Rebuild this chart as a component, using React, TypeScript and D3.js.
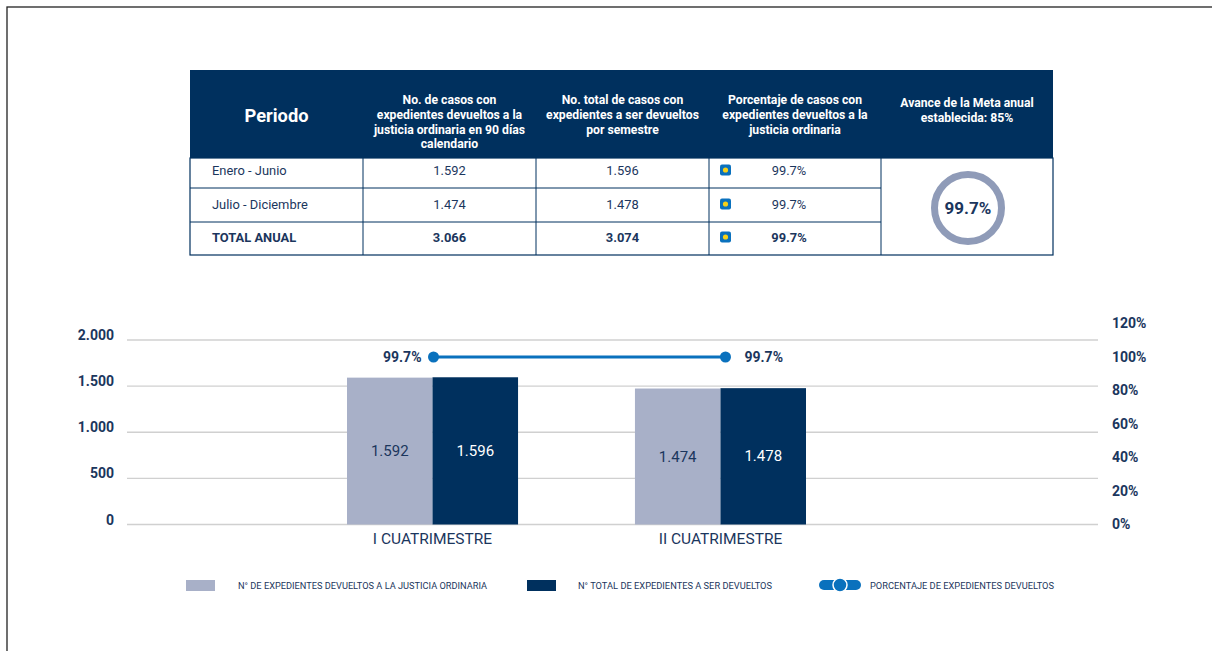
import React from "react";
import * as d3 from "d3";

const periods = ["Enero - Junio", "Julio - Diciembre", "TOTAL ANUAL"];
const devueltos = [1592, 1474, 3066];
const totales = [1596, 1478, 3074];
const porcentajes = [99.7, 99.7, 99.7];
const metaAvance = 99.7;
const headers = [
  ["Periodo"],
  ["No. de casos con", "expedientes devueltos a la", "justicia ordinaria en 90 días", "calendario"],
  ["No. total de casos con", "expedientes a ser devueltos", "por semestre"],
  ["Porcentaje de casos con", "expedientes devueltos a la", "justicia ordinaria"],
  ["Avance de la Meta anual", "establecida: 85%"],
];

const categories = ["I CUATRIMESTRE", "II CUATRIMESTRE"];
const seriesDevueltos = [1592, 1474];
const seriesTotales = [1596, 1478];
const seriesPct = [99.7, 99.7];
const leftTicks = [0, 500, 1000, 1500, 2000];
const rightTicks = [0, 20, 40, 60, 80, 100, 120];
const legendLabels = [
  "N° DE EXPEDIENTES DEVUELTOS A LA JUSTICIA ORDINARIA",
  "N° TOTAL DE EXPEDIENTES A SER DEVUELTOS",
  "PORCENTAJE DE EXPEDIENTES DEVUELTOS",
];

const NAVY = "#00305e";
const TEXT = "#1b365d";
const GRAY = "#a8b0c8";
const BLUE = "#0a71bd";
const FONT = "Roboto, 'Noto Sans', sans-serif";

const fmt = (v: number) => d3.format(",")(v).replace(/,/g, ".");

export default function App() {
  // Table geometry
  const colX = [190, 363, 536, 709, 881, 1053];
  const rowY = [70, 158, 188, 222, 255];

  // Chart scales
  const x0 = d3.scaleBand().domain(categories).range([347, 806]).paddingInner(0.406).paddingOuter(0);
  const x1 = d3.scaleBand().domain(["a", "b"]).range([0, x0.bandwidth()]);
  const yL = d3.scaleLinear().domain([0, 2000]).range([524.5, 340]);
  const yR = d3.scaleLinear().domain([0, 120]).range([524, 323]);
  const gridL = 127, gridR = 1098;

  const centers = categories.map((c) => (x0(c) as number) + x0.bandwidth() / 2);
  const lineX = centers.map((c, i) => c + (i === 0 ? 1 : 5));
  const line = d3.line<number>().x((_, i) => lineX[i]).y((d) => yR(d));

  return (
    <svg width={1212} height={651} style={{ position: "absolute", left: 0, top: 0, background: "#fff" }} fontFamily={FONT}>
      <rect x={7} y={7} width={1220} height={660} fill="#fff" stroke="#222" strokeWidth={1.3} />

      {/* Table header */}
      <rect x={colX[0]} y={rowY[0]} width={colX[5] - colX[0]} height={rowY[1] - rowY[0]} fill={NAVY} />
      {headers.map((lines, i) => {
        const cx = (colX[i] + colX[i + 1]) / 2;
        if (i === 0) {
          return (
            <text key={i} x={cx} y={122} textAnchor="middle" fill="#fff" fontWeight={700} fontSize={18.3}>
              {lines[0]}
            </text>
          );
        }
        const lh = 14.8;
        const top = i === 4 ? 107 : 104;
        return (
          <text key={i} x={cx} textAnchor="middle" fill="#fff" fontWeight={700} fontSize={12.2}>
            {lines.map((l, j) => (
              <tspan key={j} x={cx} y={top + j * lh}>
                {l}
              </tspan>
            ))}
          </text>
        );
      })}
      {/* Table body */}
      <rect x={colX[0]} y={rowY[1]} width={colX[5] - colX[0]} height={rowY[4] - rowY[1]} fill="#fff" stroke={NAVY} strokeWidth={1.2} />
      {[1, 2, 3, 4].map((i) => (
        <line key={"v" + i} x1={colX[i]} x2={colX[i]} y1={rowY[1]} y2={rowY[4]} stroke={NAVY} strokeWidth={1} />
      ))}
      {[2, 3].map((i) => (
        <line key={"h" + i} x1={colX[0]} x2={colX[4]} y1={rowY[i]} y2={rowY[i]} stroke={NAVY} strokeWidth={1} />
      ))}
      {periods.map((p, r) => {
        const cy = rowY[r + 2] - 13;
        const bold = r === 2;
        const fw = bold ? 700 : 400;
        return (
          <g key={p} fill={TEXT} fontSize={12.9} fontWeight={fw}>
            <text x={212} y={cy}>{p}</text>
            <text x={(colX[1] + colX[2]) / 2} y={cy} textAnchor="middle">{fmt(devueltos[r])}</text>
            <text x={(colX[2] + colX[3]) / 2} y={cy} textAnchor="middle">{fmt(totales[r])}</text>
            <rect x={720} y={cy - 10.5} width={11} height={11} rx={2} fill={BLUE} />
            <circle cx={725.5} cy={cy - 5} r={2.6} fill="#f7d117" />
            <text x={789} y={cy} textAnchor="middle">{porcentajes[r].toFixed(1)}%</text>
          </g>
        );
      })}
      {/* donut */}
      <circle cx={968} cy={208} r={33.5} fill="none" stroke="#8f9bb8" strokeWidth={7} />
      <text x={968} y={214} textAnchor="middle" fill={TEXT} fontWeight={700} fontSize={17}>
        {metaAvance.toFixed(1)}%
      </text>

      {/* Chart gridlines */}
      {leftTicks.map((t) => (
        <line key={t} x1={gridL} x2={gridR} y1={yL(t)} y2={yL(t)} stroke="#d0d0d0" strokeWidth={1.3} />
      ))}
      {leftTicks.map((t) => (
        <text key={"l" + t} x={114} y={yL(t)} textAnchor="end" fill={TEXT} fontWeight={700} fontSize={14}>
          {fmt(t)}
        </text>
      ))}
      {rightTicks.map((t) => (
        <text key={"r" + t} x={1112} y={yR(t) + 5} fill={TEXT} fontWeight={700} fontSize={14}>
          {t}%
        </text>
      ))}

      {/* Bars */}
      {categories.map((c, i) => {
        const bx = x0(c) as number;
        const ya = yL(seriesDevueltos[i]);
        const yb = yL(seriesTotales[i]);
        const base = yL(0);
        return (
          <g key={c}>
            <rect x={bx + (x1("a") as number)} y={ya} width={x1.bandwidth()} height={base - ya} fill={GRAY} />
            <rect x={bx + (x1("b") as number)} y={yb} width={x1.bandwidth()} height={base - yb} fill={NAVY} />
            <text x={bx + (x1("a") as number) + x1.bandwidth() / 2} y={(ya + base) / 2 + 5} textAnchor="middle" fill={TEXT} fontSize={15}>
              {fmt(seriesDevueltos[i])}
            </text>
            <text x={bx + (x1("b") as number) + x1.bandwidth() / 2} y={(yb + base) / 2 + 5} textAnchor="middle" fill="#fff" fontSize={15}>
              {fmt(seriesTotales[i])}
            </text>
            <text x={centers[i]} y={544} textAnchor="middle" fill={TEXT} fontSize={15.5}>
              {c}
            </text>
          </g>
        );
      })}

      {/* Line */}
      <path d={line(seriesPct) as string} fill="none" stroke={BLUE} strokeWidth={3} />
      {seriesPct.map((v, i) => (
        <circle key={i} cx={lineX[i]} cy={yR(v)} r={5.5} fill={BLUE} />
      ))}
      <text x={lineX[0] - 12} y={yR(seriesPct[0]) + 5} textAnchor="end" fill={TEXT} fontWeight={700} fontSize={14}>
        {seriesPct[0].toFixed(1)}%
      </text>
      <text x={lineX[1] + 19} y={yR(seriesPct[1]) + 5} fill={TEXT} fontWeight={700} fontSize={14}>
        {seriesPct[1].toFixed(1)}%
      </text>

      {/* Legend */}
      <rect x={186} y={580} width={29} height={11} fill={GRAY} />
      <text x={238} y={589} fill={TEXT} fontSize={9} textLength={249} lengthAdjust="spacingAndGlyphs">{legendLabels[0]}</text>
      <rect x={527} y={580} width={29} height={11} fill={NAVY} />
      <text x={578} y={589} fill={TEXT} fontSize={9} textLength={194} lengthAdjust="spacingAndGlyphs">{legendLabels[1]}</text>
      <rect x={819} y={580} width={42} height={10} rx={5} fill={BLUE} />
      <circle cx={840} cy={585} r={7} fill={BLUE} stroke="#fff" strokeWidth={1.5} />
      <text x={870} y={589} fill={TEXT} fontSize={9} textLength={184} lengthAdjust="spacingAndGlyphs">{legendLabels[2]}</text>
    </svg>
  );
}
